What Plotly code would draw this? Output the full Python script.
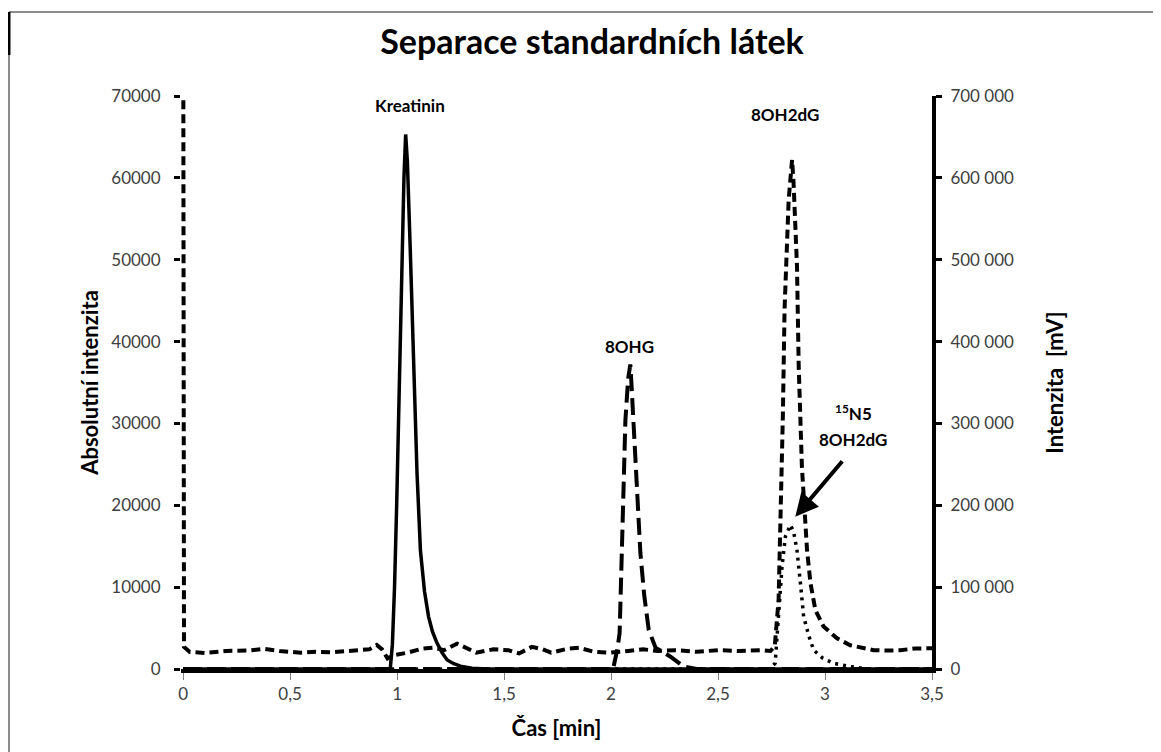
import plotly.graph_objects as go

# ---------------- data ----------------
# Kreatinin (solid, right axis, mV)
t_kre = [0.0, 0.5, 0.9, 0.968, 0.978, 0.988, 0.998, 1.008, 1.02, 1.032, 1.04, 1.048,
         1.062, 1.078, 1.093, 1.109, 1.128, 1.147, 1.165, 1.186, 1.21, 1.234, 1.265,
         1.296, 1.35, 1.42, 2.0, 2.5, 3.0, 3.5]
i_kre = [0, 0, 0, 0, 30000, 100000, 200000, 320000, 480000, 600000, 653000, 620000,
         508000, 353000, 240000, 145000, 95000, 64000, 46000, 32000, 20000, 11000, 6500,
         3500, 1000, 0, 0, 0, 0, 0]

# 8OHG (long dash, left axis)
t_8ohg = [0.0, 1.0, 2.0, 2.012, 2.03, 2.04, 2.051, 2.067, 2.08, 2.09, 2.095, 2.105,
          2.121, 2.137, 2.155, 2.176, 2.208, 2.278, 2.34, 2.4, 3.0, 3.5]
i_8ohg = [0, 0, 0, 300, 2500, 4400, 14200, 30400, 35500, 37200, 35000, 30400,
          22300, 14200, 9000, 4800, 2600, 1500, 300, 0, 0, 0]

# 8OH2dG (short dash, left axis)
t_8oh2dg = [0.0, 0.004, 0.03, 0.1, 0.2, 0.3, 0.38, 0.45, 0.55, 0.62, 0.7, 0.8, 0.87,
            0.905, 0.93, 0.955, 0.99, 1.05, 1.12, 1.17, 1.22, 1.28, 1.33, 1.37, 1.45,
            1.52, 1.57, 1.63, 1.68, 1.72, 1.8, 1.85, 1.92, 2.0, 2.08, 2.15, 2.22, 2.3,
            2.4, 2.5, 2.6, 2.7, 2.745, 2.765, 2.783, 2.791, 2.803, 2.811, 2.822, 2.83,
            2.846, 2.853, 2.869, 2.877, 2.892, 2.908, 2.916, 2.932, 2.955, 2.993, 3.056,
            3.118, 3.227, 3.3, 3.352, 3.42, 3.49, 3.5]
i_8oh2dg = [90000, 2700, 2100, 1950, 2200, 2250, 2450, 2200, 2000, 2100, 2050, 2300, 2400,
            2950, 2400, 1300, 1700, 2000, 2500, 2600, 2300, 3100, 2500, 2000, 2400,
            2300, 1900, 2700, 2400, 2000, 2500, 2600, 2100, 2000, 2200, 2400, 2200, 2300,
            2100, 2300, 2200, 2300, 2200, 2800, 8400, 16600, 31000, 44000, 53000, 57300,
            62200, 59400, 49200, 37000, 24700, 16600, 14500, 10500, 7200, 5200, 3750,
            2900, 2300, 2250, 2300, 2500, 2550, 2550]

# 15N5 8OH2dG (dotted, left axis)
t_15n5 = [0.0, 1.0, 2.0, 2.74, 2.767, 2.783, 2.799, 2.815, 2.838, 2.853, 2.869, 2.885,
          2.9, 2.925, 2.947, 2.99, 3.04, 3.118, 3.2, 3.5]
i_15n5 = [0, 0, 0, 0, 700, 6400, 12500, 16200, 17600, 16800, 14500, 10500,
          6400, 4000, 2300, 1300, 700, 300, 0, 0]

title_text = "Separace standardních látek"
x_title = "Čas [min]"
y_title = "Absolutní intenzita"
y2_title = "Intenzita  [mV]"

labels = ["Kreatinin", "8OHG", "8OH2dG"]
label_x = [1.062, 2.085, 2.815]
label_y = [68900, 39400, 67700]

arrow_x, arrow_y = 2.861, 18600
iso_label_x = 3.132
iso_label_y = [31300, 28000]

FONT = "Lato"
OFF = 8  # page offset of the figure inside the browser window

fig = go.Figure()

fig.add_trace(go.Scatter(x=t_8oh2dg, y=i_8oh2dg, mode="lines", yaxis="y",
                         line=dict(color="black", width=4, dash="9px,5px")))
fig.add_trace(go.Scatter(x=t_8ohg, y=i_8ohg, mode="lines", yaxis="y",
                         line=dict(color="black", width=4, dash="17px,7px")))
fig.add_trace(go.Scatter(x=t_15n5, y=i_15n5, mode="lines", yaxis="y",
                         line=dict(color="black", width=3.5, dash="3px,5px")))
fig.add_trace(go.Scatter(x=t_kre, y=i_kre, mode="lines", yaxis="y2",
                         line=dict(color="black", width=3.5)))

tickfont = dict(family=FONT, size=17, color="#404040")
titlefont = dict(family=FONT, size=22, color="black")

plot_l, plot_r, plot_t, plot_b = 181 - OFF, 932 - OFF, 96 - OFF, 669 - OFF
W, H = 1161, 752

fig.update_layout(
    width=W, height=H,
    paper_bgcolor="white", plot_bgcolor="white",
    showlegend=False,
    separators=", ",
    margin=dict(l=plot_l, r=W - plot_r, t=plot_t, b=H - plot_b),
    title=dict(text="<b>%s</b>" % title_text, x=(592 - OFF) / W, xref="container",
               xanchor="center",
               y=1 - (42 - OFF) / H, yref="container", yanchor="middle",
               font=dict(family=FONT, size=34, color="black")),
    xaxis=dict(range=[-0.01, 3.5], dtick=0.5, tick0=0, showgrid=False, zeroline=False,
               showline=True, linecolor="black", linewidth=4,
               ticks="outside", ticklen=7, tickwidth=1, tickcolor="#808080",
               tickfont=tickfont,
               title=dict(text="<b>%s</b>" % x_title, font=titlefont, standoff=18)),
    yaxis=dict(range=[0, 70000], dtick=10000, tickformat="d", showgrid=False,
               zeroline=False, showline=False,
               ticks="outside", ticklen=6, tickwidth=3, tickcolor="black",
               ticklabelstandoff=10,
               tickfont=tickfont,
               title=dict(text="<b>%s</b>" % y_title, font=titlefont, standoff=6)),
    yaxis2=dict(range=[0, 700000], dtick=100000, tickformat=",d", overlaying="y",
                side="right", showgrid=False, zeroline=False,
                showline=True, linecolor="black", linewidth=4,
                ticks="outside", ticklen=6, tickwidth=3, tickcolor="black",
                ticklabelstandoff=5,
                tickfont=tickfont,
                title=dict(text="<b>%s</b>" % y2_title, font=titlefont, standoff=36)),
)

for txt, lx, ly in zip(labels, label_x, label_y):
    fig.add_annotation(x=lx, y=ly, xref="x", yref="y", text="<b>%s</b>" % txt,
                       showarrow=False, font=dict(family=FONT, size=17, color="black"))

fig.add_annotation(x=iso_label_x, y=iso_label_y[0], xref="x", yref="y",
                   text="<b><sup>15</sup>N5</b>", showarrow=False,
                   font=dict(family=FONT, size=17, color="black"))
fig.add_annotation(x=iso_label_x, y=iso_label_y[1], xref="x", yref="y",
                   text="<b>8OH2dG</b>", showarrow=False,
                   font=dict(family=FONT, size=17, color="black"))
fig.add_annotation(x=arrow_x, y=arrow_y, xref="x", yref="y", text=" ",
                   showarrow=True, ax=50, ay=-59, arrowhead=2, arrowsize=1.15,
                   arrowwidth=4, arrowcolor="black", standoff=0)

# chart frame (border of the original chart area), given in window pixels
px_w, px_h = float(plot_r - plot_l), float(plot_b - plot_t)
def px2paper_x(px):
    return (px - OFF - plot_l) / px_w
def px2paper_y(py):
    return (plot_b - (py - OFF)) / px_h

fig.add_shape(type="line", xref="paper", yref="paper",
              x0=px2paper_x(9), x1=px2paper_x(1170), y0=px2paper_y(12), y1=px2paper_y(12),
              line=dict(color="#8c8c8c", width=2))
fig.add_shape(type="line", xref="paper", yref="paper",
              x0=px2paper_x(9), x1=px2paper_x(9), y0=px2paper_y(12), y1=px2paper_y(770),
              line=dict(color="#8c8c8c", width=2))
fig.add_shape(type="line", xref="paper", yref="paper",
              x0=px2paper_x(9), x1=px2paper_x(9), y0=px2paper_y(12), y1=px2paper_y(55),
              line=dict(color="black", width=3))

fig.write_html("out.html")
